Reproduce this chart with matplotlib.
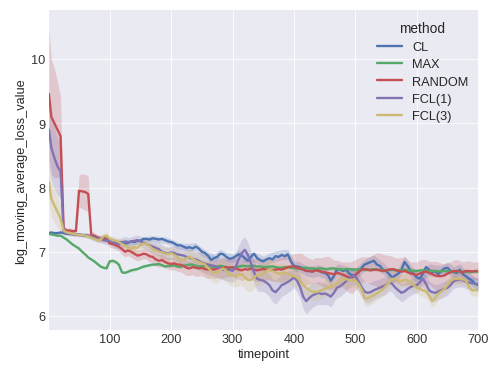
import numpy as np
import matplotlib
matplotlib.use("Agg")
import matplotlib.pyplot as plt

# timepoints (every 5th step)
t = np.concatenate([[1], np.arange(5, 701, 5)])

methods = ["CL", "MAX", "RANDOM", "FCL(1)", "FCL(3)"]

cl = [7.29, 7.3, 7.29, 7.29, 7.3, 7.29, 7.28, 7.28, 7.27, 7.27, 7.26, 7.26, 7.25, 7.25, 7.24,
      7.24, 7.22, 7.2, 7.22, 7.19,
      7.17, 7.16, 7.15, 7.14, 7.15, 7.12, 7.14, 7.16, 7.15, 7.17,
      7.17, 7.2, 7.2, 7.19, 7.21, 7.2, 7.19, 7.2, 7.18, 7.16,
      7.15, 7.13, 7.1, 7.1, 7.08, 7.06, 7.07, 7.05, 7.08, 7.05,
      7.0, 6.98, 6.94, 6.87, 6.9, 6.92, 6.97, 6.96, 6.92, 6.89,
      6.9, 6.93, 6.96, 6.94, 6.9, 6.86, 6.92, 6.97, 6.9, 6.87,
      6.85, 6.88, 6.9, 6.88, 6.93, 6.92, 6.95, 6.93, 6.96, 6.85,
      6.78, 6.77, 6.76, 6.74, 6.7, 6.7, 6.69, 6.72, 6.71, 6.68,
      6.67, 6.64, 6.55, 6.62, 6.72, 6.73, 6.7, 6.72, 6.66, 6.63,
      6.64, 6.68, 6.75, 6.8, 6.82, 6.84, 6.86, 6.8, 6.78, 6.72,
      6.7, 6.65, 6.6, 6.63, 6.66, 6.72, 6.84, 6.78, 6.7, 6.65,
      6.6, 6.58, 6.66, 6.76, 6.72, 6.68, 6.7, 6.65, 6.7, 6.74,
      6.75, 6.7, 6.68, 6.67, 6.72, 6.65, 6.62, 6.58, 6.55, 6.5,
      6.48]

mx = [7.28, 7.27, 7.26, 7.25, 7.25, 7.22, 7.19, 7.15, 7.11, 7.08, 7.05, 7.0, 6.96, 6.91, 6.88,
      6.85, 6.81, 6.77, 6.75, 6.74,
      6.85, 6.86, 6.84, 6.8, 6.68, 6.67, 6.69, 6.71, 6.72, 6.73,
      6.75, 6.77, 6.78, 6.79, 6.8, 6.8, 6.81, 6.79, 6.77, 6.78,
      6.78, 6.79, 6.77, 6.76, 6.78, 6.79, 6.8, 6.8, 6.78, 6.77,
      6.77, 6.78, 6.78, 6.77, 6.76, 6.77, 6.78, 6.77, 6.76, 6.75,
      6.75, 6.76, 6.77, 6.78, 6.78, 6.77, 6.78, 6.78, 6.77, 6.77,
      6.76, 6.76, 6.77, 6.77, 6.76, 6.75, 6.75, 6.76, 6.76, 6.75,
      6.75, 6.74, 6.74, 6.75, 6.75, 6.74, 6.74, 6.73, 6.74, 6.74,
      6.73, 6.73, 6.74, 6.74, 6.73, 6.73, 6.72, 6.73, 6.73, 6.72,
      6.72, 6.73, 6.73, 6.72, 6.72, 6.72, 6.73, 6.72, 6.72, 6.71,
      6.71, 6.72, 6.72, 6.71, 6.71, 6.71, 6.72, 6.71, 6.71, 6.7,
      6.7, 6.71, 6.71, 6.7, 6.7, 6.7, 6.7, 6.69, 6.7, 6.7,
      6.7, 6.69, 6.69, 6.7, 6.69, 6.69, 6.69, 6.68, 6.69, 6.69,
      6.69]

rnd = [9.46, 9.1, 9.0, 8.9, 8.8, 7.36, 7.33, 7.33, 7.32, 7.32, 7.95, 7.94, 7.93, 7.9, 7.26,
       7.25, 7.22, 7.2, 7.2, 7.2,
       7.13, 7.12, 7.1, 7.08, 7.04, 7.0, 7.02, 7.0, 6.97, 6.94,
       6.95, 6.97, 6.96, 6.93, 6.92, 6.88, 6.86, 6.87, 6.84, 6.82,
       6.81, 6.82, 6.8, 6.8, 6.78, 6.75, 6.74, 6.76, 6.75, 6.74,
       6.75, 6.73, 6.72, 6.73, 6.72, 6.74, 6.74, 6.75, 6.76, 6.75,
       6.76, 6.74, 6.72, 6.71, 6.73, 6.72, 6.74, 6.72, 6.71, 6.72,
       6.73, 6.72, 6.72, 6.71, 6.72, 6.73, 6.72, 6.74, 6.76, 6.77,
       6.77, 6.75, 6.74, 6.72, 6.7, 6.7, 6.69, 6.71, 6.7, 6.69,
       6.68, 6.67, 6.66, 6.65, 6.67, 6.66, 6.64, 6.62, 6.6, 6.6,
       6.64, 6.68, 6.72, 6.73, 6.72, 6.71, 6.72, 6.72, 6.71, 6.7,
       6.71, 6.72, 6.73, 6.72, 6.7, 6.69, 6.7, 6.68, 6.66, 6.65,
       6.64, 6.66, 6.68, 6.69, 6.67, 6.65, 6.63, 6.62, 6.62, 6.63,
       6.66, 6.68, 6.7, 6.7, 6.69, 6.68, 6.7, 6.7, 6.69, 6.7,
       6.7]

fcl1 = [8.9, 8.62, 8.46, 8.33, 8.25, 7.3, 7.29, 7.28, 7.28, 7.27, 7.27, 7.26, 7.26, 7.25, 7.24,
        7.22, 7.2, 7.2, 7.18, 7.17,
        7.17, 7.15, 7.13, 7.12, 7.14, 7.16, 7.15, 7.16, 7.17, 7.18,
        7.16, 7.14, 7.12, 7.1, 7.08, 7.06, 7.04, 7.0, 6.98, 6.97,
        6.99, 6.98, 6.96, 6.95, 6.94, 6.92, 6.9, 6.89, 6.88, 6.86,
        6.83, 6.81, 6.8, 6.79, 6.78, 6.76, 6.74, 6.72, 6.71, 6.72,
        6.7, 6.76, 6.88, 6.98, 7.03, 6.95, 6.82, 6.68, 6.58, 6.56,
        6.55, 6.52, 6.48, 6.4, 6.37, 6.42, 6.48, 6.5, 6.53, 6.56,
        6.6, 6.55, 6.45, 6.3, 6.23, 6.28, 6.32, 6.34, 6.36, 6.34,
        6.35, 6.33, 6.3, 6.36, 6.44, 6.46, 6.5, 6.54, 6.58, 6.62,
        6.62, 6.54, 6.45, 6.38, 6.36, 6.37, 6.4, 6.42, 6.44, 6.46,
        6.48, 6.52, 6.5, 6.44, 6.4, 6.36, 6.38, 6.42, 6.45, 6.47,
        6.48, 6.52, 6.58, 6.5, 6.4, 6.37, 6.36, 6.38, 6.4, 6.42,
        6.44, 6.48, 6.54, 6.56, 6.57, 6.56, 6.53, 6.52, 6.51, 6.5,
        6.5]

fcl3 = [8.08, 7.82, 7.72, 7.62, 7.52, 7.33, 7.3, 7.29, 7.28, 7.27, 7.26, 7.26, 7.25, 7.24, 7.22,
        7.2, 7.18, 7.19, 7.24, 7.25,
        7.2, 7.18, 7.17, 7.15, 7.12, 7.1, 7.06, 7.05, 7.07, 7.06,
        7.1, 7.13, 7.12, 7.09, 7.04, 7.02, 7.0, 6.99, 6.97, 6.96,
        6.98, 6.95, 6.92, 6.88, 6.87, 6.9, 6.92, 6.89, 6.86, 6.84,
        6.82, 6.8, 6.75, 6.7, 6.66, 6.68, 6.72, 6.74, 6.7, 6.65,
        6.63, 6.62, 6.64, 6.65, 6.6, 6.56, 6.56, 6.6, 6.64, 6.63,
        6.66, 6.7, 6.72, 6.7, 6.68, 6.66, 6.66, 6.68, 6.65, 6.63,
        6.62, 6.6, 6.55, 6.48, 6.44, 6.4, 6.38, 6.37, 6.38, 6.4,
        6.42, 6.45, 6.46, 6.47, 6.5, 6.54, 6.58, 6.57, 6.56, 6.56,
        6.55, 6.5, 6.42, 6.28, 6.27, 6.3, 6.32, 6.35, 6.38, 6.42,
        6.47, 6.52, 6.58, 6.57, 6.55, 6.54, 6.56, 6.55, 6.52, 6.48,
        6.44, 6.42, 6.4, 6.38, 6.32, 6.23, 6.28, 6.35, 6.38, 6.42,
        6.48, 6.55, 6.57, 6.58, 6.58, 6.57, 6.55, 6.45, 6.4, 6.4,
        6.4]

# confidence half-widths (CL / MAX every 10th step, others every 5th)
cl_ci = [0.02, 0.02, 0.02, 0.02, 0.02, 0.02, 0.02, 0.02, 0.03, 0.03,
         0.03, 0.03, 0.03, 0.04, 0.04, 0.04, 0.04, 0.04, 0.05, 0.05,
         0.05, 0.05, 0.05, 0.06, 0.06, 0.06, 0.06, 0.06, 0.07, 0.07,
         0.07, 0.07, 0.07, 0.07, 0.08, 0.08, 0.08, 0.08, 0.08, 0.08,
         0.08, 0.08, 0.08, 0.09, 0.09, 0.09, 0.09, 0.09, 0.09, 0.09,
         0.09, 0.09, 0.09, 0.09, 0.09, 0.09, 0.09, 0.09, 0.09, 0.09,
         0.09, 0.09, 0.09, 0.09, 0.09, 0.09, 0.09, 0.09, 0.09, 0.09,
         0.09]

mx_ci = [0.01, 0.01, 0.01, 0.01, 0.01, 0.01, 0.01, 0.02, 0.02, 0.02,
         0.02, 0.02, 0.02, 0.02, 0.02, 0.02, 0.02, 0.02, 0.02, 0.02,
         0.02, 0.02, 0.02, 0.02, 0.03, 0.03, 0.03, 0.03, 0.03, 0.03,
         0.03, 0.03, 0.03, 0.03, 0.03, 0.03, 0.03, 0.03, 0.03, 0.03,
         0.03, 0.03, 0.03, 0.03, 0.03, 0.03, 0.03, 0.03, 0.03, 0.03,
         0.03, 0.03, 0.03, 0.03, 0.03, 0.03, 0.03, 0.03, 0.03, 0.03,
         0.03, 0.03, 0.03, 0.03, 0.03, 0.03, 0.03, 0.03, 0.03, 0.03,
         0.03]

rnd_ci = [1.0, 0.9, 0.85, 0.75, 0.6, 0.05, 0.04, 0.04, 0.04, 0.04, 0.25, 0.27, 0.28, 0.28, 0.06,
          0.05, 0.05, 0.05, 0.05, 0.06,
          0.06, 0.06, 0.07, 0.07, 0.08, 0.08, 0.08, 0.09, 0.09, 0.08,
          0.08, 0.08, 0.08, 0.09, 0.09, 0.1, 0.1, 0.1, 0.09, 0.09,
          0.1, 0.1, 0.11, 0.11, 0.12, 0.12, 0.11, 0.12, 0.13, 0.12,
          0.12, 0.13, 0.14, 0.13, 0.14, 0.14, 0.15, 0.16, 0.15, 0.14,
          0.14, 0.15, 0.15, 0.16, 0.16, 0.15, 0.16, 0.17, 0.18, 0.17,
          0.17, 0.16, 0.16, 0.17, 0.18, 0.19, 0.2, 0.2, 0.19, 0.18,
          0.2, 0.22, 0.24, 0.24, 0.22, 0.2, 0.19, 0.2, 0.21, 0.22,
          0.24, 0.26, 0.25, 0.22, 0.2, 0.19, 0.2, 0.22, 0.24, 0.25,
          0.24, 0.22, 0.2, 0.19, 0.2, 0.22, 0.24, 0.26, 0.27, 0.26,
          0.24, 0.22, 0.2, 0.19, 0.2, 0.22, 0.22, 0.2, 0.18, 0.19,
          0.2, 0.21, 0.2, 0.19, 0.18, 0.2, 0.22, 0.22, 0.2, 0.18,
          0.17, 0.16, 0.17, 0.18, 0.17, 0.16, 0.15, 0.16, 0.15, 0.14,
          0.14]

fcl1_ci = [0.55, 0.5, 0.48, 0.45, 0.42, 0.04, 0.03, 0.03, 0.03, 0.03, 0.03, 0.03, 0.04, 0.04, 0.04,
           0.05, 0.05, 0.05, 0.06, 0.06,
           0.06, 0.07, 0.07, 0.08, 0.08, 0.08, 0.07, 0.07, 0.08, 0.08,
           0.08, 0.09, 0.09, 0.1, 0.1, 0.1, 0.11, 0.11, 0.1, 0.1,
           0.1, 0.11, 0.12, 0.12, 0.13, 0.14, 0.14, 0.13, 0.13, 0.14,
           0.14, 0.15, 0.15, 0.16, 0.16, 0.17, 0.16, 0.16, 0.17, 0.18,
           0.18, 0.2, 0.22, 0.22, 0.2, 0.2, 0.19, 0.18, 0.18, 0.18,
           0.17, 0.17, 0.18, 0.18, 0.19, 0.18, 0.18, 0.17, 0.17, 0.16,
           0.16, 0.17, 0.18, 0.19, 0.2, 0.2, 0.19, 0.18, 0.18, 0.17,
           0.17, 0.16, 0.16, 0.15, 0.15, 0.16, 0.16, 0.15, 0.15, 0.14,
           0.14, 0.15, 0.15, 0.16, 0.16, 0.15, 0.15, 0.14, 0.14, 0.14,
           0.14, 0.13, 0.13, 0.14, 0.14, 0.14, 0.13, 0.13, 0.13, 0.12,
           0.12, 0.12, 0.13, 0.13, 0.14, 0.14, 0.13, 0.12, 0.12, 0.12,
           0.12, 0.11, 0.11, 0.12, 0.12, 0.11, 0.11, 0.1, 0.1, 0.1,
           0.1]

fcl3_ci = [0.3, 0.28, 0.26, 0.24, 0.22, 0.05, 0.04, 0.03, 0.03, 0.03, 0.03, 0.03, 0.03, 0.04, 0.04,
           0.04, 0.04, 0.05, 0.05, 0.05,
           0.05, 0.06, 0.06, 0.06, 0.07, 0.07, 0.07, 0.08, 0.08, 0.08,
           0.08, 0.08, 0.09, 0.09, 0.09, 0.1, 0.1, 0.1, 0.1, 0.11,
           0.11, 0.11, 0.12, 0.12, 0.12, 0.13, 0.13, 0.13, 0.13, 0.14,
           0.14, 0.14, 0.15, 0.15, 0.15, 0.16, 0.16, 0.16, 0.16, 0.17,
           0.17, 0.17, 0.17, 0.17, 0.18, 0.18, 0.18, 0.17, 0.17, 0.17,
           0.16, 0.16, 0.16, 0.16, 0.15, 0.15, 0.15, 0.15, 0.15, 0.15,
           0.15, 0.15, 0.14, 0.14, 0.14, 0.14, 0.14, 0.14, 0.13, 0.13,
           0.13, 0.13, 0.13, 0.13, 0.12, 0.12, 0.12, 0.12, 0.12, 0.12,
           0.12, 0.12, 0.12, 0.12, 0.12, 0.12, 0.11, 0.11, 0.11, 0.11,
           0.11, 0.11, 0.11, 0.11, 0.11, 0.1, 0.1, 0.1, 0.1, 0.1,
           0.1, 0.1, 0.1, 0.1, 0.1, 0.1, 0.1, 0.1, 0.1, 0.1,
           0.1, 0.1, 0.09, 0.09, 0.09, 0.09, 0.09, 0.09, 0.09, 0.09,
           0.09]

colors = ["#4C72B0", "#55A868", "#C44E52", "#8172B2", "#CCB974"]
series = [cl, mx, rnd, fcl1, fcl3]
cis = [cl_ci, mx_ci, rnd_ci, fcl1_ci, fcl3_ci]

plt.style.use("seaborn-v0_8-darkgrid")
plt.rcParams["font.family"] = ["Liberation Sans", "DejaVu Sans"]

fig = plt.figure(figsize=(6.4, 4.8), dpi=76.4)
ax = fig.add_axes([0.100, 0.098, 0.878, 0.872])

for name, y, ci, c in zip(methods, series, cis, colors):
    y = np.array(y)
    ci = np.array(ci)
    step = (len(t) - 1) // (len(ci) - 1)
    tb = t[::step]
    yb = y[::step]
    ax.fill_between(tb, yb - ci, yb + ci, color=c, alpha=0.22, lw=0)
    ax.plot(t, y, color=c, lw=2.2, label=name)

ax.set_xlim(1, 700)
ax.set_ylim(5.78, 10.76)
ax.set_xticks([100, 200, 300, 400, 500, 600, 700])
ax.set_yticks([6, 7, 8, 9, 10])
ax.tick_params(labelsize=12, colors="#333333")
ax.set_xlabel("timepoint", fontsize=12, labelpad=2)
ax.set_ylabel("log_moving_average_loss_value", fontsize=12, labelpad=4)

leg = ax.legend(title="method", loc="upper right", fontsize=12, title_fontsize=13,
                frameon=False, handlelength=2.0, labelspacing=0.42,
                bbox_to_anchor=(1.004, 1.0))

fig.savefig("out.png", dpi=76.4)
